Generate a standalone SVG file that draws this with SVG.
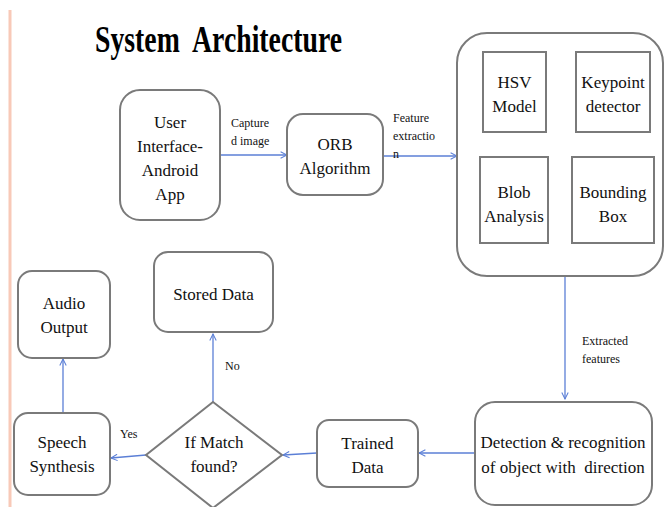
<svg xmlns="http://www.w3.org/2000/svg" width="664" height="507" viewBox="0 0 664 507">
<defs>
<marker id="arr" viewBox="0 0 10 10" refX="9" refY="5" markerWidth="8" markerHeight="8" markerUnits="userSpaceOnUse" orient="auto">
<path d="M1,1 L9,5 L1,9" fill="none" stroke="#5b7fd6" stroke-width="1.3"/>
</marker>
<style>
.box{fill:#fff;stroke:#7a7a7a;stroke-width:2}
.c{fill:none;stroke:#5b7fd6;stroke-width:1.3;marker-end:url(#arr)}
</style>
</defs>
<rect width="664" height="507" fill="#fff"/>
<line x1="10" y1="10" x2="10" y2="507" stroke="#f8c9b8" stroke-width="3"/>
<text x="95" y="52" font-family="Liberation Serif, serif" font-weight="bold" font-size="38" textLength="247" lengthAdjust="spacingAndGlyphs" fill="#000" xml:space="preserve">System  Architecture</text>

<g id="connectors">
<line class="c" x1="220" y1="155" x2="287" y2="155"/>
<line class="c" x1="383" y1="156" x2="457" y2="156"/>
<line class="c" x1="565" y1="276" x2="565" y2="399"/>
<line class="c" x1="475" y1="453" x2="419" y2="453"/>
<line class="c" x1="317" y1="453" x2="283" y2="455"/>
<line class="c" x1="146" y1="455" x2="111" y2="458"/>
<line class="c" x1="213" y1="402" x2="213" y2="334"/>
<line class="c" x1="63" y1="413" x2="63" y2="359"/>
<g font-family="Liberation Serif, serif" font-size="12" fill="#111">
<text x="231" y="127">Capture</text>
<text x="231" y="145">d image</text>
<text x="393" y="122">Feature</text>
<text x="393" y="140">extractio</text>
<text x="393" y="158">n</text>
<text x="582" y="345">Extracted</text>
<text x="582" y="363">features</text>
<text x="225" y="370">No</text>
<text x="120" y="438">Yes</text>
</g>
</g>

<g font-family="Liberation Serif, serif" font-size="17" fill="#111" text-anchor="middle">
<g id="ui">
<rect class="box" x="120" y="90" width="100" height="130" rx="20"/>
<text x="170" y="128">User</text>
<text x="170" y="152">Interface-</text>
<text x="170" y="176">Android</text>
<text x="170" y="200">App</text>
</g>
<g id="orb">
<rect class="box" x="287" y="114" width="96" height="81" rx="16"/>
<text x="335" y="150">ORB</text>
<text x="335" y="174">Algorithm</text>
</g>
<g id="features">
<rect class="box" x="457" y="33" width="206" height="243" rx="30"/>
</g>
<g id="hsv">
<rect class="box" x="483" y="52" width="63" height="80"/>
<text x="514.5" y="88">HSV</text>
<text x="514.5" y="112">Model</text>
</g>
<g id="keypoint">
<rect class="box" x="576" y="52" width="74" height="80"/>
<text x="613" y="88">Keypoint</text>
<text x="613" y="112">detector</text>
</g>
<g id="blob">
<rect class="box" x="480" y="157" width="68" height="86"/>
<text x="514" y="198">Blob</text>
<text x="514" y="222">Analysis</text>
</g>
<g id="bbox">
<rect class="box" x="572" y="157" width="82" height="86"/>
<text x="613" y="198">Bounding</text>
<text x="613" y="222">Box</text>
</g>
<g id="detection">
<rect class="box" x="475" y="402" width="177" height="103" rx="20"/>
<text x="563" y="448">Detection &amp; recognition</text>
<text x="563" y="473" xml:space="preserve">of object with  direction</text>
</g>
<g id="trained">
<rect class="box" x="317" y="420" width="101" height="67" rx="12"/>
<text x="367.5" y="449">Trained</text>
<text x="367.5" y="473">Data</text>
</g>
<g id="match">
<polygon class="box" points="213,402 282,455 213,508 146,455"/>
<text x="214" y="448">If Match</text>
<text x="214" y="472">found?</text>
</g>
<g id="stored">
<rect class="box" x="154" y="252" width="119" height="80" rx="14"/>
<text x="213.5" y="300">Stored Data</text>
</g>
<g id="speech">
<rect class="box" x="14" y="413" width="96" height="82" rx="14"/>
<text x="62" y="448">Speech</text>
<text x="62" y="472">Synthesis</text>
</g>
<g id="audio">
<rect class="box" x="18" y="271" width="92" height="87" rx="14"/>
<text x="64" y="309">Audio</text>
<text x="64" y="333">Output</text>
</g>
</g>
</svg>
